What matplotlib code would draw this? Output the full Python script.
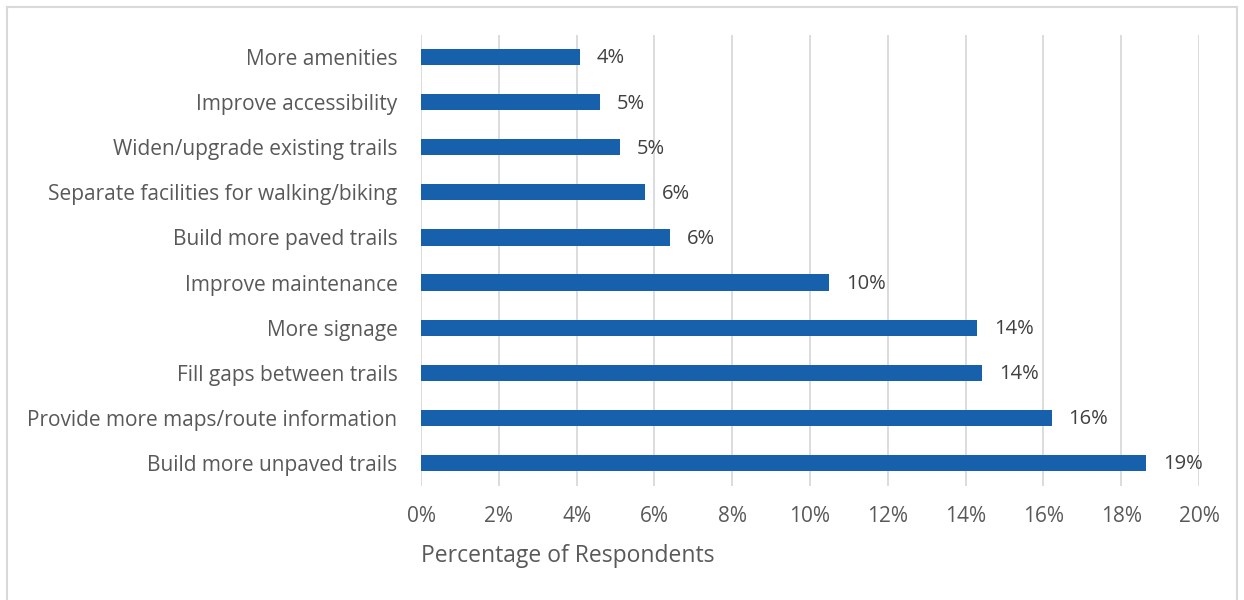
import numpy as np
import matplotlib.pyplot as plt
from matplotlib.lines import Line2D
from matplotlib.ticker import PercentFormatter

# data (top to bottom as shown)
categories = ['More amenities', 'Improve accessibility', 'Widen/upgrade existing trails',
              'Separate facilities for walking/biking', 'Build more paved trails',
              'Improve maintenance', 'More signage', 'Fill gaps between trails',
              'Provide more maps/route information', 'Build more unpaved trails']
values = [4.09, 4.6, 5.12, 5.76, 6.4, 10.49, 14.3, 14.43, 16.21, 18.64]
labels = ['4%', '5%', '5%', '6%', '6%', '10%', '14%', '14%', '16%', '19%']

plt.rcParams['font.family'] = ['Open Sans', 'DejaVu Sans']

fig = plt.figure(figsize=(12.44, 6), dpi=100)
ax = fig.add_axes([421/1244, 1-485.5/600, (1199-421)/1244, (485.5-34.5)/600])

y = np.arange(len(categories))
ax.barh(y, values, height=0.36, color='#1760ab', zorder=3)
for yi, v, lab in zip(y, values, labels):
    ax.annotate(lab, (v, yi), xytext=(12, -1), textcoords='offset points',
                va='center', ha='left', fontsize=14.5, color='#404040')

ax.set_ylim(len(categories)-0.5, -0.5)
ax.set_xlim(0, 20)
ax.set_xticks(np.arange(0, 21, 2))
ax.xaxis.set_major_formatter(PercentFormatter(decimals=0))
ax.set_yticks(y)
ax.set_yticklabels(categories)
ax.tick_params(axis='both', length=0, labelsize=15, labelcolor='#595959')
ax.tick_params(axis='x', pad=15)
ax.tick_params(axis='y', pad=17)
ax.grid(axis='x', color='#d9d9d9', linewidth=1.3, zorder=0)
for s in ax.spines.values():
    s.set_visible(False)

fig.text(421/1244, 1-556/600, 'Percentage of Respondents', fontsize=16.5,
         color='#595959', ha='left', va='center')

# outer frame
bc = '#d9d9d9'
fig.add_artist(Line2D([7/1244, 7/1244], [0, 1-7/600], color=bc, lw=1.5, transform=fig.transFigure))
fig.add_artist(Line2D([7/1244, 1237/1244], [1-7/600, 1-7/600], color=bc, lw=1.5, transform=fig.transFigure))
fig.add_artist(Line2D([1237/1244, 1237/1244], [0, 1-7/600], color=bc, lw=1.5, transform=fig.transFigure))

fig.savefig('out.png', dpi=100)
